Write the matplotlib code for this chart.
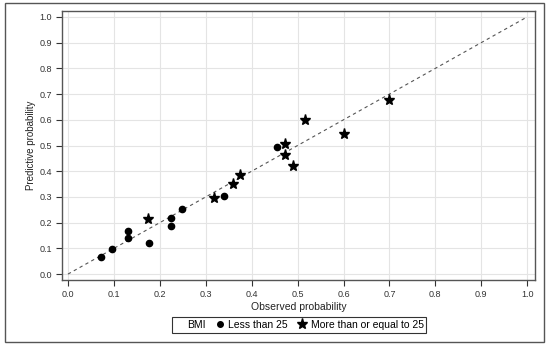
import matplotlib.pyplot as plt
from matplotlib.lines import Line2D
from matplotlib.patches import Rectangle

plt.rcParams['font.family'] = ['Liberation Sans', 'DejaVu Sans']

## data
obs_low = [0.073, 0.095, 0.130, 0.130, 0.177, 0.224, 0.224, 0.248, 0.339, 0.455]
pred_low = [0.065, 0.096, 0.167, 0.141, 0.119, 0.188, 0.219, 0.252, 0.303, 0.494]

obs_high = [0.175, 0.317, 0.359, 0.375, 0.473, 0.473, 0.489, 0.516, 0.602, 0.699]
pred_high = [0.213, 0.295, 0.350, 0.385, 0.506, 0.464, 0.421, 0.599, 0.545, 0.677]

ticks = [0.0, 0.1, 0.2, 0.3, 0.4, 0.5, 0.6, 0.7, 0.8, 0.9, 1.0]

W, H = 550, 348
fig = plt.figure(figsize=(W / 100, H / 100), dpi=100)

# outer frame
fig.patches.append(Rectangle((5 / W, 6 / H), 539 / W, 339 / H, transform=fig.transFigure,
                             fill=False, edgecolor='#555555', linewidth=1.0))

ax = fig.add_axes([62 / W, (H - 280) / H, 473 / W, 269 / H])
ax.set_xlim(-0.013, 1.017)
ax.set_ylim(-0.023, 1.023)
ax.set_xticks(ticks)
ax.set_yticks(ticks)
ax.set_xticklabels(['%.1f' % t for t in ticks])
ax.set_yticklabels(['%.1f' % t for t in ticks])
ax.grid(True, color='#e4e4e4', linewidth=0.8)
ax.set_axisbelow(True)
for s in ax.spines.values():
    s.set_color('#555555')
    s.set_linewidth(1.0)
ax.tick_params(direction='out', length=4, width=0.8, color='#333333',
               labelsize=6.5, labelcolor='#333333', pad=3)

ax.plot([0, 1], [0, 1], linestyle=(0, (3, 3)), color='#555555', linewidth=0.8)
ax.plot(obs_low, pred_low, linestyle='none', marker='o', markersize=4.5, color='black')
ax.plot(obs_high, pred_high, linestyle='none', marker='*', markersize=8, color='black')

ax.set_xlabel('Observed probability', fontsize=7.5, color='#222222', labelpad=2)
ax.set_ylabel('Predictive probability', fontsize=7, color='#222222')
ax.yaxis.set_label_coords(-0.056, 0.5)

handles = [Line2D([], [], linestyle='none', marker=''),
           Line2D([], [], linestyle='none', marker='o', markersize=4, color='black'),
           Line2D([], [], linestyle='none', marker='*', markersize=8, color='black')]
labels = ['BMI', 'Less than 25', 'More than or equal to 25']
leg = fig.legend(handles, labels, loc='center', bbox_to_anchor=(299 / W, (H - 325) / H),
                 ncol=3, fontsize=7.5, frameon=True, fancybox=False, handlelength=0.8,
                 handletextpad=0.4, columnspacing=1.0, borderpad=0.25)
leg.get_frame().set_edgecolor('black')
leg.get_frame().set_linewidth(0.8)

fig.savefig('out.png', dpi=100)
